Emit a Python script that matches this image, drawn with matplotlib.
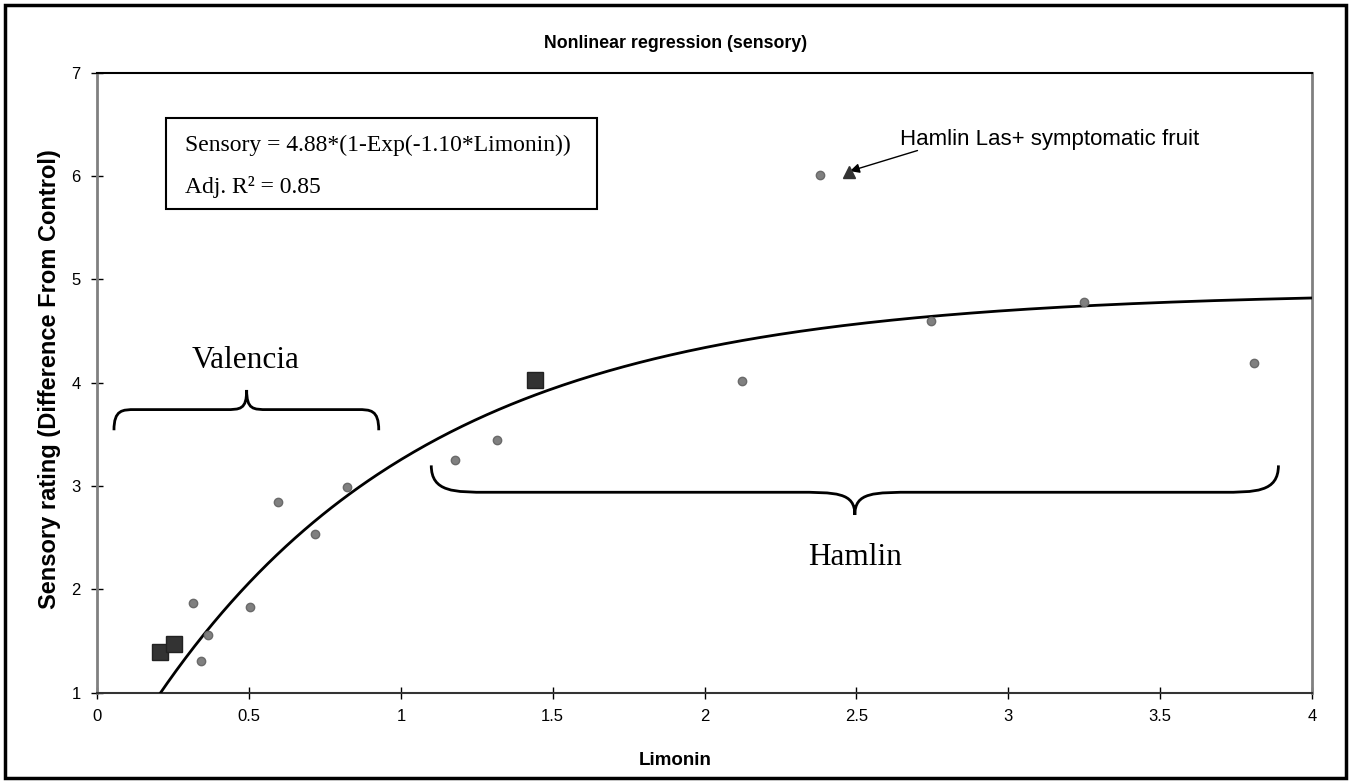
import numpy as np
import matplotlib
matplotlib.use("Agg")
import matplotlib.pyplot as plt
from matplotlib.path import Path
from matplotlib.patches import PathPatch, Rectangle
from matplotlib.ticker import FuncFormatter

# data
circle_x = [0.314, 0.341, 0.366, 0.503, 0.596, 0.718, 0.823, 1.177, 1.318, 2.122, 2.38, 2.746, 3.25, 3.81]
circle_y = [1.865, 1.31, 1.558, 1.826, 2.85, 2.532, 2.99, 3.25, 3.444, 4.02, 6.007, 4.60, 4.78, 4.195]
square_x = [0.205, 0.252, 1.44]
square_y = [1.397, 1.471, 4.03]
symptomatic_x = [2.476]
symptomatic_y = [6.04]

fit_a = 4.88
fit_k = 1.10

plt.rcParams['font.family'] = ['Liberation Sans', 'DejaVu Sans']

fig = plt.figure(figsize=(13.51, 7.83), dpi=100)
ax = fig.add_axes([0.072, 0.1153, 0.899, 0.7918])

# fitted curve
xs = np.linspace(0, 4, 400)
ys = fit_a * (1 - np.exp(-fit_k * xs))
ax.plot(xs, ys, color='black', lw=2, zorder=3)

ax.plot(circle_x, circle_y, 'o', ms=6, color='#808080', mec='#6a6a6a', zorder=4)
ax.plot(square_x, square_y, 's', ms=11, color='#333333', mec='#222222', zorder=4)
ax.plot(symptomatic_x, symptomatic_y, '^', ms=9, color='#333333', zorder=4)

ax.set_xlim(0, 4)
ax.set_ylim(1, 7)
ax.set_xticks(np.arange(0, 4.01, 0.5))
ax.set_yticks(range(1, 8))
ax.xaxis.set_major_formatter(FuncFormatter(lambda v, p: '%g' % v))
ax.tick_params(direction='inout', length=8, width=1, labelsize=12, pad=8)

for side in ['left', 'right']:
    ax.spines[side].set_color('#808080')
    ax.spines[side].set_linewidth(2)
ax.spines['top'].set_color('black')
ax.spines['top'].set_linewidth(1.5)
ax.spines['bottom'].set_color('#333333')
ax.spines['bottom'].set_linewidth(1.5)


def brace(x0, x1, xm, y_end, y_h, y_tip, w, w2):
    verts = [(x0, y_end), (x0, y_h), (x0 + w * 0.4, y_h), (x0 + w, y_h),
             (xm - w2, y_h),
             (xm - w2 * 0.3, y_h), (xm, y_h), (xm, y_tip),
             (xm, y_h), (xm + w2 * 0.3, y_h), (xm + w2, y_h),
             (x1 - w, y_h),
             (x1 - w * 0.4, y_h), (x1, y_h), (x1, y_end)]
    codes = [Path.MOVETO, Path.CURVE4, Path.CURVE4, Path.CURVE4,
             Path.LINETO,
             Path.CURVE4, Path.CURVE4, Path.CURVE4,
             Path.CURVE4, Path.CURVE4, Path.CURVE4,
             Path.LINETO,
             Path.CURVE4, Path.CURVE4, Path.CURVE4]
    ax.add_patch(PathPatch(Path(verts, codes), fill=False, lw=2, color='black', zorder=3))


brace(0.055, 0.927, 0.492, 3.54, 3.74, 3.93, 0.07, 0.07)
brace(1.10, 3.89, 2.495, 3.20, 2.94, 2.72, 0.19, 0.2)

ax.text(0.487, 4.14, 'Valencia', family='Liberation Serif', fontsize=22.5, ha='center', va='baseline')
ax.text(2.495, 2.235, 'Hamlin', family='Liberation Serif', fontsize=22.5, ha='center', va='baseline')

# equation box
ax.add_patch(Rectangle((0.226, 5.685), 1.42, 0.88, fill=False, lw=1.5, color='black', zorder=5))
ax.text(0.289, 6.247, 'Sensory = 4.88*(1-Exp(-1.10*Limonin))', family='Liberation Serif',
        fontsize=17, va='baseline')
ax.text(0.289, 5.84, 'Adj. R\u00b2 = 0.85', family='Liberation Serif', fontsize=17, va='baseline')

ax.annotate('', xy=(2.47, 6.04), xytext=(2.71, 6.255),
            arrowprops=dict(arrowstyle='-|>', color='black', lw=1, mutation_scale=14))
ax.text(2.643, 6.305, 'Hamlin Las+ symptomatic fruit', fontsize=16, va='baseline')

fig.text(0.5, 0.944, 'Nonlinear regression (sensory)', fontsize=12.8, fontweight='bold', ha='center', va='center')
fig.text(0.5, 0.029, 'Limonin', fontsize=13.5, fontweight='bold', ha='center', va='center')
fig.text(0.037, 0.516, 'Sensory rating (Difference From Control)', fontsize=17, fontweight='bold',
         rotation=90, ha='center', va='center')

fig.patches.append(Rectangle((0.004, 0.006), 0.992, 0.988, transform=fig.transFigure,
                             fill=False, lw=2.5, color='black'))

fig.savefig('out.png', dpi=100)
